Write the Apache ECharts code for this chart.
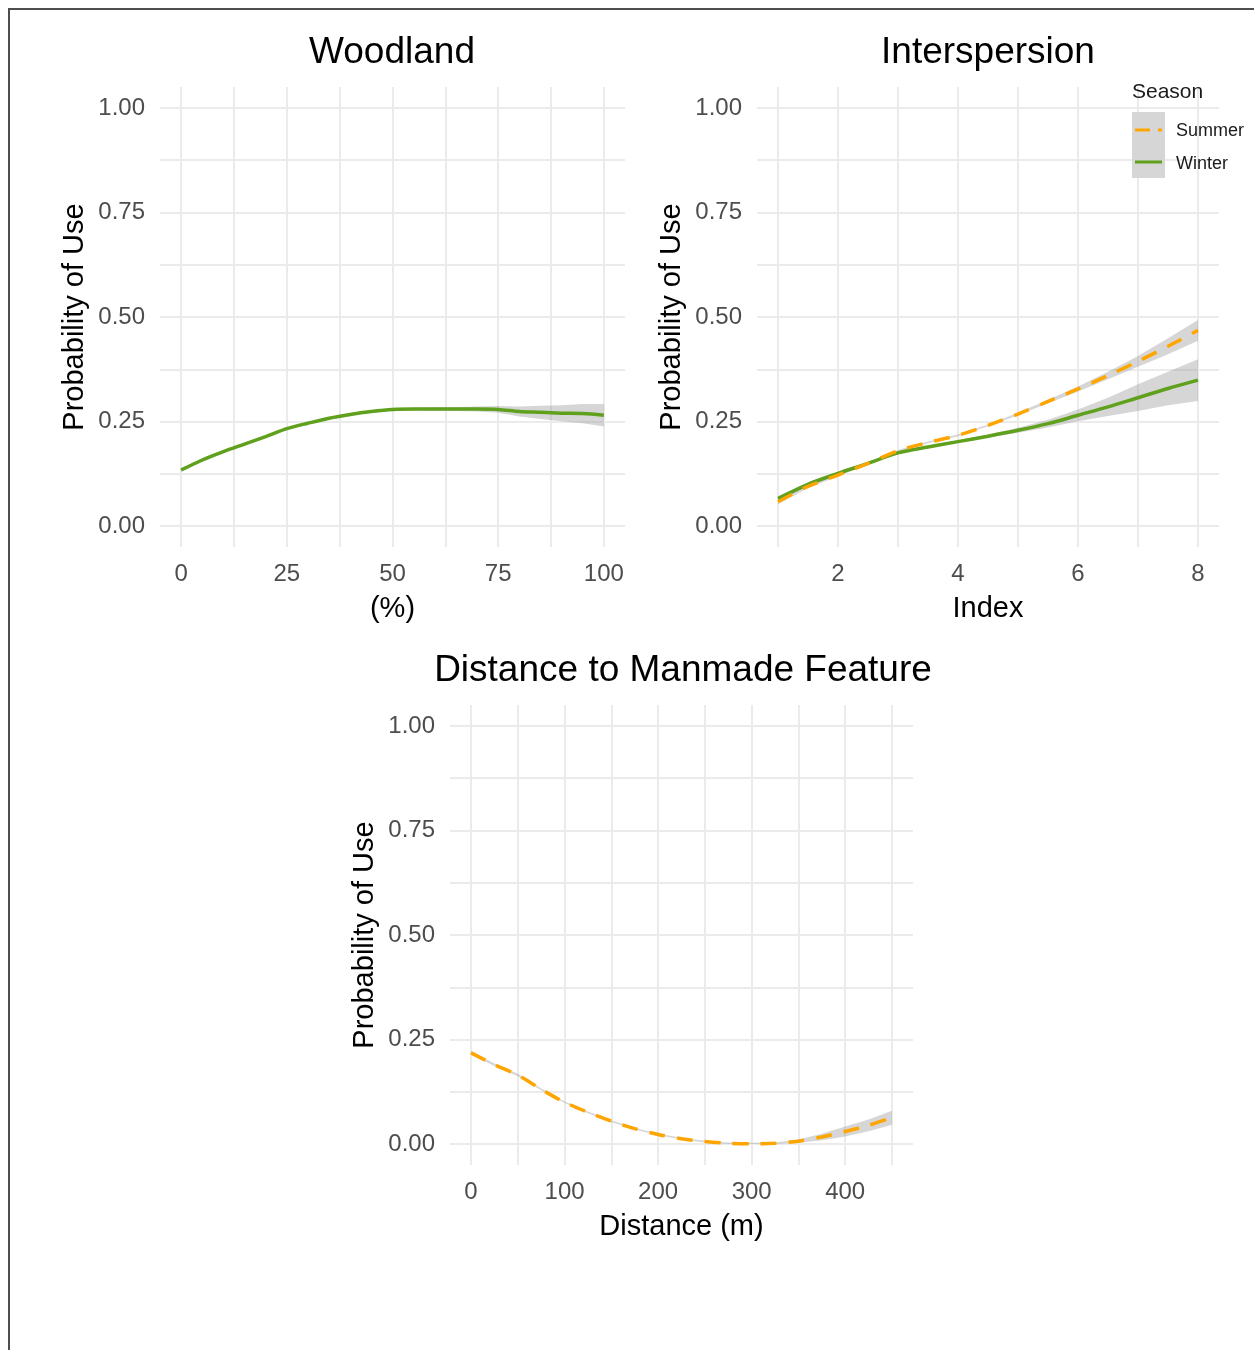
<!DOCTYPE html>
<html><head><meta charset="utf-8">
<script src="https://cdn.jsdelivr.net/npm/echarts@6/dist/echarts.min.js"></script>
<style>html,body{margin:0;padding:0;background:#fff}#c{width:1254px;height:1350px}</style>
</head><body><div id="c"></div>
<script>
// ---- Data ----
const woodX = [0,5,10,15,20,25,30,35,40,45,50,55,60,65,70,75,80,85,90,95,100];
const woodWinter = [0.134,0.158,0.178,0.196,0.214,0.233,0.246,0.258,0.267,0.274,0.279,0.280,0.280,0.280,0.280,0.279,0.274,0.272,0.270,0.269,0.265];
const woodWinterHW = [0.004,0.004,0.003,0.003,0.003,0.003,0.003,0.003,0.003,0.003,0.003,0.003,0.004,0.005,0.006,0.008,0.012,0.016,0.019,0.023,0.027];

const intX = [1,1.5,2,2.5,3,3.5,4,4.5,5,5.5,6,6.5,7,7.5,8];
const intSummer = [0.058,0.095,0.122,0.150,0.180,0.200,0.217,0.241,0.268,0.298,0.328,0.360,0.394,0.430,0.468];
const intSummerHW = [0.006,0.004,0.003,0.002,0.002,0.002,0.002,0.002,0.003,0.004,0.006,0.009,0.013,0.019,0.025];
const intWinter = [0.066,0.100,0.126,0.150,0.175,0.189,0.202,0.215,0.229,0.245,0.265,0.285,0.307,0.329,0.349];
const intWinterHW = [0.006,0.004,0.003,0.002,0.002,0.002,0.003,0.004,0.006,0.009,0.014,0.022,0.032,0.040,0.050];

const distX = [0,25,50,75,100,125,150,175,200,225,250,275,300,325,350,375,400,425,450];
const distSummer = [0.218,0.190,0.165,0.131,0.100,0.076,0.055,0.037,0.023,0.013,0.006,0.002,0.001,0.002,0.007,0.017,0.030,0.045,0.063];
const distSummerHW = [0.004,0.003,0.003,0.002,0.002,0.002,0.002,0.002,0.002,0.002,0.002,0.002,0.002,0.002,0.004,0.008,0.012,0.014,0.017];

const yTicks = [0,0.125,0.25,0.375,0.5,0.625,0.75,0.875,1];
const yLabels = [0,0.25,0.5,0.75,1];
const woodTicks = [0,12.5,25,37.5,50,62.5,75,87.5,100];
const woodLabels = [0,25,50,75,100];
const intTicks = [1,2,3,4,5,6,7,8];
const intLabels = [2,4,6,8];
const distTicks = [0,50,100,150,200,250,300,350,400,450];
const distLabels = [0,100,200,300,400];

const ORANGE = '#FFA500', GREEN = '#5fa01c', RIB = 'rgba(153,153,153,0.4)';
const GRIDC = '#ebebeb';
const FONT = '"Liberation Sans", Arial, sans-serif';

function pairs(xs, ys){ return xs.map((x,i)=>[x, ys[i]]); }
function ribbon(xs, ys, hw, idx){
  const rows = xs.map((x,i)=>[x, Math.max(0, ys[i]-hw[i]), ys[i]+hw[i]]);
  return {
    type:'custom', xAxisIndex:idx, yAxisIndex:idx, data:rows, silent:true, z:1,
    encode:{x:0, y:[1,2]},
    renderItem:function(params, api){
      if (params.dataIndex !== 0) return null;
      const upper = rows.map(r=>api.coord([r[0], r[2]]));
      const lower = rows.map(r=>api.coord([r[0], r[1]])).reverse();
      return {type:'polygon', shape:{points:upper.concat(lower)}, style:{fill:RIB}};
    }
  };
}
function line(xs, ys, idx, color, dashed){
  return {type:'line', xAxisIndex:idx, yAxisIndex:idx, data:pairs(xs,ys), symbol:'none', smooth:0.3, z:3,
    lineStyle:{color:color, width:3.5, type: dashed ? [16,12] : 'solid', cap:'butt'}};
}
function xAxis(idx, min, max, ticks, labels, name){
  return {type:'value', gridIndex:idx, min:min, max:max,
    axisLine:{show:false},
    axisTick:{show:true, customValues:ticks, length:0, lineStyle:{opacity:0}},
    splitLine:{show:true, lineStyle:{color:GRIDC, width:2}},
    axisLabel:{customValues:labels, color:'#4d4d4d', fontSize:24, fontFamily:FONT, margin:15,
      formatter:v=>String(v)},
    name:name, nameLocation:'middle', nameGap:47,
    nameTextStyle:{color:'#000', fontSize:29, fontFamily:FONT}};
}
function yAxis(idx){
  return {type:'value', gridIndex:idx, min:-0.05, max:1.05,
    axisLine:{show:false},
    axisTick:{show:true, customValues:yTicks, length:0, lineStyle:{opacity:0}},
    splitLine:{show:true, lineStyle:{color:GRIDC, width:2}},
    axisLabel:{customValues:yLabels, color:'#4d4d4d', fontSize:24, fontFamily:FONT, margin:15,
      formatter:v=>v.toFixed(2)},
    name:'Probability of Use', nameLocation:'middle', nameGap:71, nameRotate:90,
    nameTextStyle:{color:'#000', fontSize:29, fontFamily:FONT}};
}

const option = {
  animation:false,
  backgroundColor:'#fff',
  title:[
    {text:'Woodland', left:387, top:29, textAlign:'center', textStyle:{fontSize:37, fontWeight:'normal', color:'#000', fontFamily:FONT}},
    {text:'Interspersion', left:983, top:29, textAlign:'center', textStyle:{fontSize:37, fontWeight:'normal', color:'#000', fontFamily:FONT}},
    {text:'Distance to Manmade Feature', left:678, top:647, textAlign:'center', textStyle:{fontSize:37, fontWeight:'normal', color:'#000', fontFamily:FONT}}
  ],
  grid:[
    {left:160, top:87, width:465, height:460},
    {left:757, top:87, width:462, height:460},
    {left:450, top:705, width:463, height:460}
  ],
  xAxis:[
    xAxis(0, -5, 105, woodTicks, woodLabels, '(%)'),
    xAxis(1, 0.65, 8.35, intTicks, intLabels, 'Index'),
    xAxis(2, -22.5, 472.5, distTicks, distLabels, 'Distance (m)')
  ],
  yAxis:[yAxis(0), yAxis(1), yAxis(2)],
  series:[
    ribbon(woodX, woodWinter, woodWinterHW, 0),
    line(woodX, woodWinter, 0, GREEN, false),
    ribbon(intX, intSummer, intSummerHW, 1),
    ribbon(intX, intWinter, intWinterHW, 1),
    line(intX, intWinter, 1, GREEN, false),
    line(intX, intSummer, 1, ORANGE, true),
    ribbon(distX, distSummer, distSummerHW, 2),
    line(distX, distSummer, 2, ORANGE, true)
  ],
  graphic:[
    {type:'line', z:100, shape:{x1:8, y1:9, x2:1254, y2:9}, style:{stroke:'#4d4d4d', lineWidth:2}},
    {type:'line', z:100, shape:{x1:9, y1:8, x2:9, y2:1350}, style:{stroke:'#4d4d4d', lineWidth:2}},
    {type:'text', z:100, x:1132, y:92, style:{text:'Season', font:'21px '+FONT, fill:'#1a1a1a', textVerticalAlign:'middle'}},
    {type:'rect', z:100, shape:{x:1132, y:112, width:33, height:66}, style:{fill:'#d6d6d6'}},
    {type:'line', z:101, shape:{x1:1135, y1:130, x2:1162, y2:130}, style:{stroke:ORANGE, lineWidth:3, lineDash:[15,8]}},
    {type:'line', z:101, shape:{x1:1135, y1:162, x2:1162, y2:162}, style:{stroke:GREEN, lineWidth:3}},
    {type:'text', z:100, x:1176, y:131, style:{text:'Summer', font:'18px '+FONT, fill:'#1a1a1a', textVerticalAlign:'middle'}},
    {type:'text', z:100, x:1176, y:164, style:{text:'Winter', font:'18px '+FONT, fill:'#1a1a1a', textVerticalAlign:'middle'}}
  ]
};
const chart = echarts.init(document.getElementById('c'), null, {renderer:'canvas'});
chart.setOption(option);
</script></body></html>
